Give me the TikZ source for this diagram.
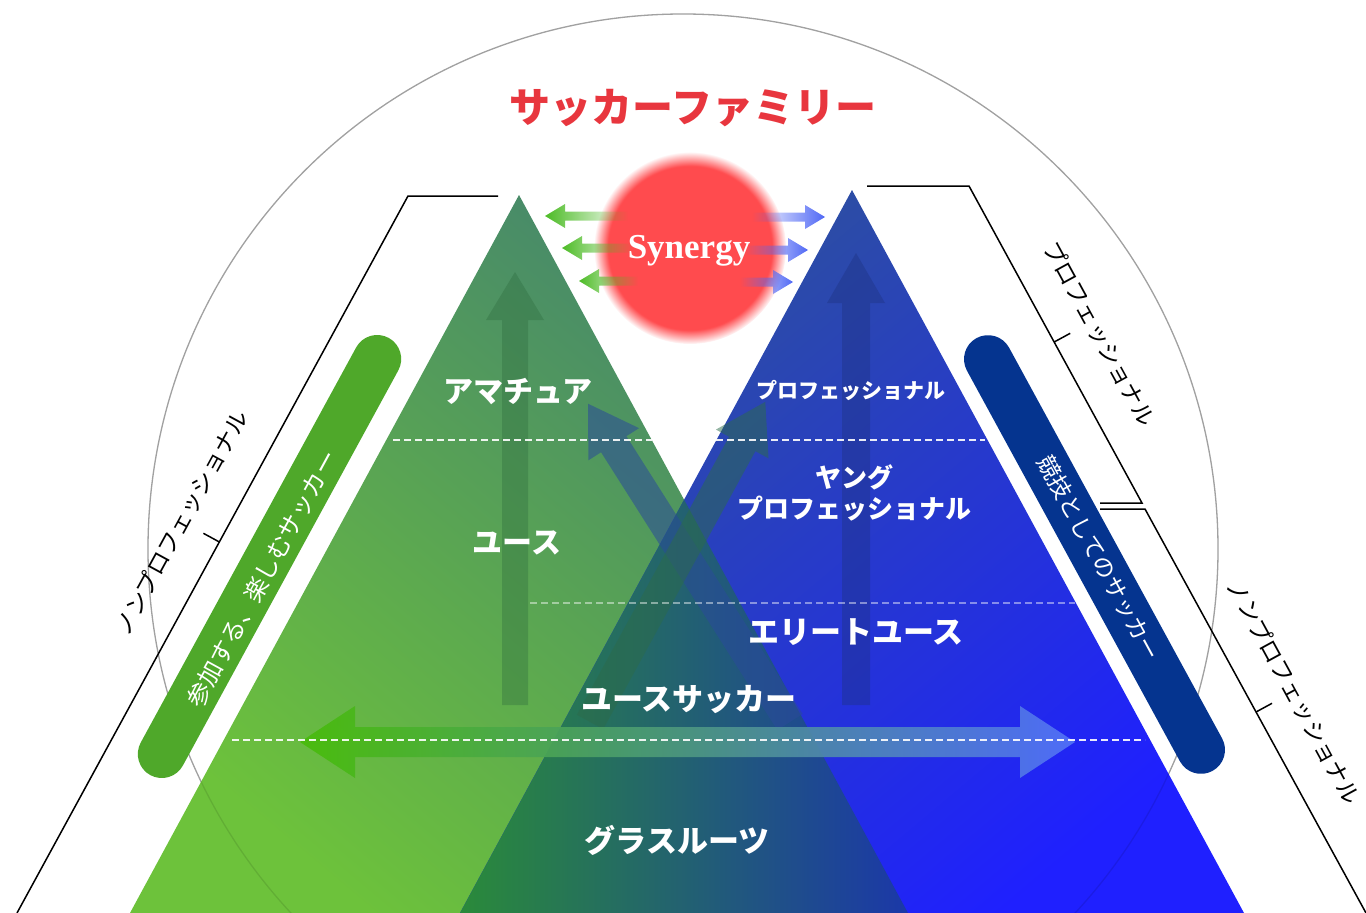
\documentclass[tikz,border=0pt]{standalone}
\usepackage{fontspec}
\newfontfamily\jp{Noto Sans CJK JP}
\newfontfamily\synfont{Liberation Serif}
\usetikzlibrary{fadings}
\definecolor{gbot}{HTML}{6DC23B}
\definecolor{gmid}{HTML}{56A352}
\definecolor{gtop}{HTML}{43836F}
\definecolor{btop}{HTML}{2E5398}
\definecolor{bmid}{HTML}{2A45C8}
\definecolor{bbot}{HTML}{1F20FF}
\definecolor{ovL}{HTML}{2A8A3A}
\definecolor{ovM}{HTML}{24656A}
\definecolor{ovR}{HTML}{1B38A8}
\definecolor{gpill}{HTML}{4FA82A}
\definecolor{bpill}{HTML}{05348F}
\definecolor{titlered}{HTML}{E8363E}
\definecolor{synred}{HTML}{FF4B4E}
\definecolor{circgray}{HTML}{B4B4B4}
\definecolor{gdark}{HTML}{2C6A3C}
\definecolor{bdark}{HTML}{1E3280}
\definecolor{diagb}{HTML}{2A4A9A}
\definecolor{diagg}{HTML}{2C6B4A}
\definecolor{hL}{HTML}{48BC0A}
\definecolor{hM}{HTML}{5A9A80}
\definecolor{hR}{HTML}{5272F8}
\definecolor{sgreen}{HTML}{4CBB25}
\definecolor{sblue}{HTML}{5068F5}
\tikzfading[name=fadeR, left color=transparent!0, middle color=transparent!25, right color=transparent!100]
\tikzfading[name=fadeL, left color=transparent!100, middle color=transparent!25, right color=transparent!0]
\newcommand\uparrowpath[6]{(#1-#4,#2) -- (#1-#4,#3+#6) -- (#1-#5,#3+#6) -- (#1,#3) -- (#1+#5,#3+#6) -- (#1+#4,#3+#6) -- (#1+#4,#2) -- cycle}
\newcommand\lftarrowpath[6]{(#1,#2) -- (#1+#6,#2-#5) -- (#1+#6,#2-#4) -- (#3,#2-#4) -- (#3,#2+#4) -- (#1+#6,#2+#4) -- (#1+#6,#2+#5) -- cycle}
\newcommand\rgtarrowpath[6]{(#1,#2) -- (#1-#6,#2-#5) -- (#1-#6,#2-#4) -- (#3,#2-#4) -- (#3,#2+#4) -- (#1-#6,#2+#4) -- (#1-#6,#2+#5) -- cycle}
\tikzset{
  dashline/.style={white, line width=1.7pt, dash pattern=on 7pt off 4pt},
  bracketline/.style={black, line width=1.5pt, line join=miter},
  whitelabel/.style={text=white, font=\jp\bfseries, inner sep=0pt},
  sidelabel/.style={text=black, font=\jp\fontsize{23}{23}\selectfont, inner sep=0pt},
  pillbox/.style={rectangle, minimum height=48pt, rounded corners=24pt, inner sep=0pt},
  pilltext/.style={text=white, font=\jp\fontsize{24}{24}\selectfont, inner sep=0pt},
}
\begin{document}
\begin{tikzpicture}[x=1pt,y=-1pt]
\useasboundingbox (0,0) rectangle (1366,913);
% big circle
\draw[circgray, line width=1.3pt] (683,549) circle[radius=535pt];
% triangles
\coordinate (gA) at (519,195);
\coordinate (gL) at (130,913);
\coordinate (gR) at (908,913);
\coordinate (bA) at (852,190);
\coordinate (bL) at (460,913);
\coordinate (bR) at (1244,913);
\coordinate (X) at (intersection of gA--gR and bA--bL);
\shade[top color=gtop, middle color=gmid, bottom color=gbot, shading angle=-40] (gA) -- (gL) -- (gR) -- cycle;
\shade[top color=btop, middle color=bmid, bottom color=bbot, shading angle=40] (bA) -- (bL) -- (bR) -- cycle;
\shade[left color=ovL, middle color=ovM, right color=ovR] (X) -- (bL) -- (gR) -- cycle;
\draw[black, opacity=0.10, line width=1.3pt] (683,549) circle[radius=535pt];
% vertical arrows
\fill[gdark, opacity=0.35] \uparrowpath{515}{705}{272}{13}{29}{48};
\fill[bdark, opacity=0.40] \uparrowpath{856}{705}{253}{14}{29}{50};
% diagonal arrows
\begin{scope}[shift={(790,722)}, rotate=122.4]
\fill[diagb, opacity=0.55] (0,-15) -- (329,-15) -- (329,-30) -- (377,0) -- (329,30) -- (329,15) -- (0,15) -- cycle;
\end{scope}
\begin{scope}[shift={(590,722)}, rotate=61.3]
\fill[diagg, opacity=0.5] (0,-15) -- (317,-15) -- (317,-30) -- (365,0) -- (317,30) -- (317,15) -- (0,15) -- cycle;
\end{scope}
% horizontal double arrow
\shade[left color=hL, middle color=hM, right color=hR, opacity=0.92]
  (300,742) -- (355,706) -- (355,727) -- (1020,727) -- (1020,706) -- (1075,742) -- (1020,778) -- (1020,757) -- (355,757) -- (355,778) -- cycle;
% dashed lines
\draw[dashline, opacity=0.9] (393,440) -- (652,440);
\draw[dashline, opacity=0.9] (716,440) -- (985,440);
\draw[dashline, opacity=0.45] (530,603) -- (1075,603);
\draw[dashline, opacity=0.9] (232,740) -- (1145,740);
% synergy
\fill[synred, path fading=circle with fuzzy edge 15 percent] (690,248) circle[radius=96pt];
\fill[sgreen, path fading=fadeR] \lftarrowpath{545}{216}{628}{4.5}{12}{20};
\fill[sgreen, path fading=fadeR] \lftarrowpath{562}{248}{632}{4.5}{12}{20};
\fill[sgreen, path fading=fadeR] \lftarrowpath{579}{281}{638}{4.5}{12}{20};
\fill[sblue, path fading=fadeL] \rgtarrowpath{825}{217}{752}{4.5}{12}{20};
\fill[sblue, path fading=fadeL] \rgtarrowpath{808}{250}{745}{4.5}{12}{20};
\fill[sblue, path fading=fadeL] \rgtarrowpath{793}{282}{740}{4.5}{12}{20};
\node[text=white, font=\synfont\bfseries\fontsize{35}{35}\selectfont, inner sep=0pt] (syn) at (689,251) {Synergy};
% pills
\node[pillbox, fill=gpill, minimum width=498pt, rotate=61.4] (gpillnode) at (269.5,556.5) {};
\node[pilltext, rotate=61.4] (gpilltext) at (262,579) {参加する、楽しむサッカー};
\node[pillbox, fill=bpill, minimum width=493pt, rotate=-61.4] (bpillnode) at (1094.5,554.5) {};
\node[pilltext, rotate=-61.4, font=\jp\fontsize{23}{23}\selectfont] (bpilltext) at (1099,558) {競技としてのサッカー};
% bracket lines
\coordinate (l1) at (498,196);
\coordinate (l2) at (408,196);
\coordinate (l3) at (17,913);
\draw[bracketline] (l1) -- (l2) -- (l3);
\coordinate (lt) at (219.4,542);
\coordinate (lt2) at (203.4,533.3);
\draw[bracketline] (lt) -- (lt2);
\coordinate (r1) at (867,186);
\coordinate (r2) at (969,186);
\coordinate (r3) at (1142,503);
\coordinate (r4) at (1100,503);
\draw[bracketline] (r1) -- (r2) -- (r3) -- (r4);
\coordinate (r5) at (1100,509);
\coordinate (r6) at (1145,509);
\coordinate (r7) at (1366,913);
\draw[bracketline] (r5) -- (r6) -- (r7);
\coordinate (rt) at (1054.2,342);
\coordinate (rt2) at (1070.2,333.3);
\draw[bracketline] (rt) -- (rt2);
\coordinate (rb) at (1256,712);
\coordinate (rb2) at (1272,703.3);
\draw[bracketline] (rb) -- (rb2);
\node[sidelabel, rotate=61.4] (lab1) at (181,523) {ノンプロフェッショナル};
\node[sidelabel, rotate=-61.4] (lab2) at (1100,334) {プロフェッショナル};
\node[sidelabel, rotate=-61.4] (lab3) at (1294,692) {ノンプロフェッショナル};
% triangle labels
\node[whitelabel, font=\jp\bfseries\fontsize{30}{30}\selectfont] (amateur) at (518,392) {アマチュア};
\node[whitelabel, font=\jp\bfseries\fontsize{21}{21}\selectfont] (pro) at (851,390) {プロフェッショナル};
\node[whitelabel, font=\jp\bfseries\fontsize{26}{31}\selectfont, align=center] (young) at (854,493) {ヤング\\プロフェッショナル};
\node[whitelabel, font=\jp\bfseries\fontsize{30}{30}\selectfont] (youth) at (517,543) {ユース};
\node[whitelabel, font=\jp\bfseries\fontsize{31}{31}\selectfont] (elite) at (856,632) {エリートユース};
\node[whitelabel, font=\jp\bfseries\fontsize{31}{31}\selectfont] (ysoccer) at (689,700) {ユースサッカー};
\node[whitelabel, font=\jp\bfseries\fontsize{31}{31}\selectfont] (grass) at (677,840) {グラスルーツ};
% title
\node[text=titlered, font=\jp\bfseries\fontsize{41}{41}\selectfont, inner sep=0pt] (title) at (693,108) {サッカーファミリー};
\end{tikzpicture}
\end{document}
